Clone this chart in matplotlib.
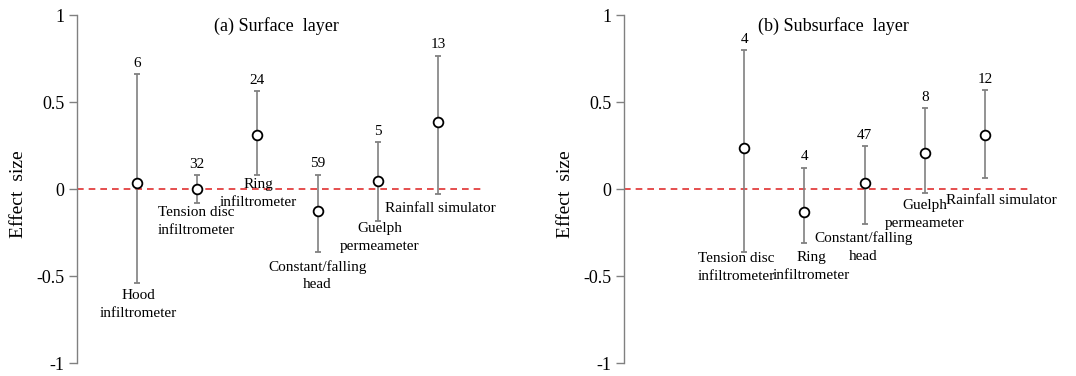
import matplotlib.pyplot as plt
import numpy as np

plt.rcParams['font.family'] = ['Liberation Serif', 'DejaVu Serif']

# (a) surface layer
surf_methods = ['Hood\ninfiltrometer', 'Tension disc\ninfiltrometer', 'Ring\ninfiltrometer',
                'Constant/falling\nhead', 'Guelph\npermeameter', 'Rainfall simulator']
surf_pos = [1, 2, 3, 4, 5, 6]
surf_mean = [0.038, 0.0, 0.309, -0.126, 0.048, 0.385]
surf_low = [-0.539, -0.082, 0.084, -0.362, -0.181, -0.029]
surf_high = [0.663, 0.080, 0.564, 0.084, 0.270, 0.768]
surf_n = [6, 32, 24, 59, 5, 13]

# (b) subsurface layer
sub_methods = ['Tension disc\ninfiltrometer', 'Ring\ninfiltrometer', 'Constant/falling\nhead',
               'Guelph\npermeameter', 'Rainfall simulator']
sub_pos = [2, 3, 4, 5, 6]
sub_mean = [0.234, -0.130, 0.038, 0.210, 0.314]
sub_low = [-0.362, -0.310, -0.200, -0.023, 0.063]
sub_high = [0.800, 0.124, 0.248, 0.467, 0.568]
sub_n = [4, 4, 47, 8, 12]

# where the method names sit (x, y of text centre)
surf_label_xy = [(1.02, -0.661), (1.98, -0.185), (3.02, -0.023),
                 (4.0, -0.497), (5.03, -0.28), (6.04, -0.11)]
sub_label_xy = [(1.86, -0.451), (3.11, -0.445), (3.98, -0.335),
                (5.0, -0.145), (6.28, -0.067)]

fig = plt.figure(figsize=(10.76, 3.76), dpi=100)
ax1 = fig.add_axes([0.0716, 0.0338, 0.380, 0.926])
ax2 = fig.add_axes([0.580, 0.0338, 0.380, 0.926])

panels = [
    (ax1, surf_pos, surf_mean, surf_low, surf_high, surf_n, surf_methods, surf_label_xy,
     '(a) Surface  layer', 0.487),
    (ax2, sub_pos, sub_mean, sub_low, sub_high, sub_n, sub_methods, sub_label_xy,
     '(b) Subsurface  layer', 0.513),
]

line_gap = 13  # points between label lines

for ax, pos, mean, low, high, n, methods, lxy, title, tx in panels:
    mean = np.array(mean)
    yerr = [mean - np.array(low), np.array(high) - mean]
    ax.axhline(0, xmin=0, xmax=6.75 / 6.8, color='#e03030', ls=(0, (4, 3)), lw=1.2, zorder=1)
    ax.errorbar(pos, mean, yerr=yerr, fmt='o', ms=7, mfc='white', mec='black', mew=1.3,
                ecolor='#808080', elinewidth=1.2, capsize=2.5, capthick=1.0, zorder=3)
    for x, h, k in zip(pos, high, n):
        ax.annotate(str(k), (x, h), xytext=(0, 3), textcoords='offset points',
                    ha='center', va='bottom', fontsize=11)
    for (lx, ly), m in zip(lxy, methods):
        lines = m.split('\n')
        for i, ln in enumerate(lines):
            dy = ((len(lines) - 1) / 2 - i) * line_gap
            ax.annotate(ln, (lx, ly), xytext=(0, dy), textcoords='offset points',
                        ha='center', va='center', fontsize=11)
    ax.text(tx, 0.968, title, transform=ax.transAxes, ha='center', va='center', fontsize=13)
    ax.set_xlim(0, 6.8)
    ax.set_ylim(-1, 1)
    ax.set_yticks([-1, -0.5, 0, 0.5, 1])
    ax.set_yticklabels(['-1', '-0.5', '0', '0.5', '1'])
    ax.set_xticks([])
    for s in ['top', 'right', 'bottom']:
        ax.spines[s].set_visible(False)
    ax.spines['left'].set_color('#808080')
    ax.spines['left'].set_linewidth(1.0)
    ax.tick_params(axis='y', direction='out', length=6, width=1.0, color='#808080',
                   labelsize=13, pad=3)
    ax.set_ylabel('Effect  size', fontsize=14)
    ax.yaxis.set_label_coords(-0.122, 0.485)
    ax.patch.set_alpha(0)

fig.savefig('out.png', dpi=100)
